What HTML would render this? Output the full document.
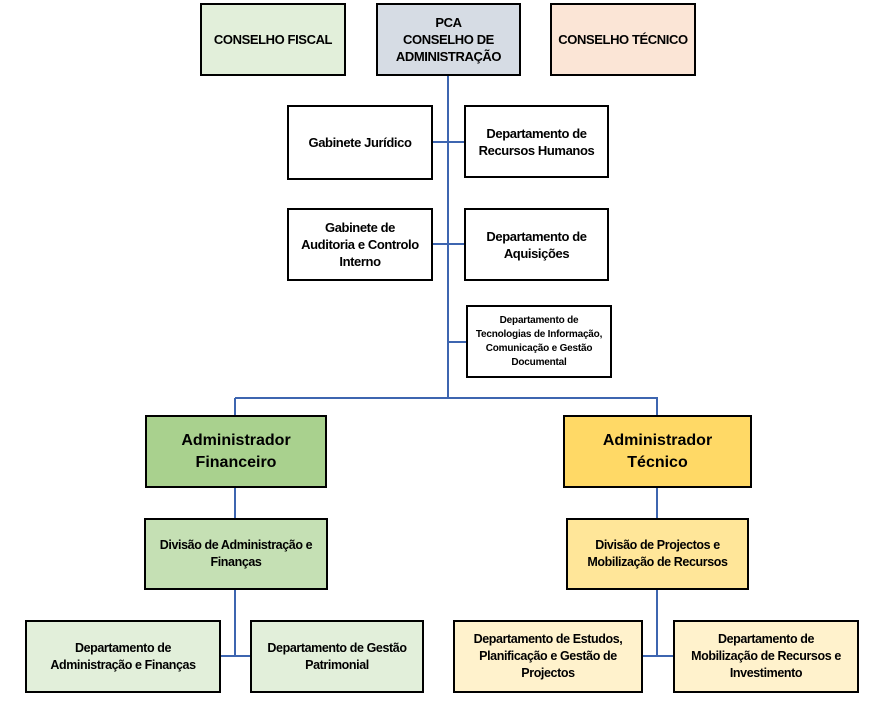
<!DOCTYPE html>
<html><head><meta charset="utf-8"><style>
body{margin:0;width:871px;height:705px;background:#fff;position:relative;overflow:hidden;font-family:"Liberation Sans",sans-serif}
.b{position:absolute;box-sizing:border-box;border:2px solid #000;display:flex;align-items:center;justify-content:center;text-align:center;font-weight:bold;font-size:13px;line-height:17px;color:#000;letter-spacing:-0.4px}
.l{position:absolute;background:#3d65b0}
</style></head><body>
<div class="l" style="left:447px;top:76px;width:2px;height:323px"></div>
<div class="l" style="left:433px;top:141px;width:31px;height:1.5px"></div>
<div class="l" style="left:432px;top:243px;width:32px;height:1.5px"></div>
<div class="l" style="left:448px;top:341px;width:18px;height:1.5px"></div>
<div class="l" style="left:235px;top:397px;width:423px;height:2px"></div>
<div class="l" style="left:234px;top:398px;width:2px;height:17px"></div>
<div class="l" style="left:656px;top:398px;width:2px;height:17px"></div>
<div class="l" style="left:234px;top:488px;width:1.5px;height:30px"></div>
<div class="l" style="left:656px;top:487px;width:1.5px;height:31px"></div>
<div class="l" style="left:234px;top:590px;width:2px;height:67px"></div>
<div class="l" style="left:220px;top:655px;width:30px;height:2px"></div>
<div class="l" style="left:656px;top:590px;width:2px;height:67px"></div>
<div class="l" style="left:643px;top:655px;width:30px;height:2px"></div>

<div class="b" style="left:200px;top:3px;width:146px;height:73px;background:#e2efda">CONSELHO FISCAL</div>
<div class="b" style="left:376px;top:3px;width:145px;height:73px;background:#d6dce4">PCA<br>CONSELHO DE<br>ADMINISTRAÇÃO</div>
<div class="b" style="left:550px;top:3px;width:146px;height:73px;background:#fbe5d6">CONSELHO TÉCNICO</div>

<div class="b" style="left:287px;top:105px;width:146px;height:75px;background:#fff">Gabinete Jurídico</div>
<div class="b" style="left:464px;top:105px;width:145px;height:73px;background:#fff">Departamento de<br>Recursos Humanos</div>
<div class="b" style="left:287px;top:208px;width:146px;height:73px;background:#fff">Gabinete de<br>Auditoria e Controlo<br>Interno</div>
<div class="b" style="left:464px;top:208px;width:145px;height:73px;background:#fff">Departamento de<br>Aquisições</div>
<div class="b" style="left:466px;top:305px;width:146px;height:73px;background:#fff;font-size:10px;line-height:14px;letter-spacing:-0.2px">Departamento de<br>Tecnologias de Informação,<br>Comunicação e Gestão<br>Documental</div>

<div class="b" style="left:145px;top:415px;width:182px;height:73px;background:#a9d18e;font-size:16px;line-height:22px;letter-spacing:0">Administrador<br>Financeiro</div>
<div class="b" style="left:563px;top:415px;width:189px;height:73px;background:#ffd966;font-size:16px;line-height:22px;letter-spacing:0">Administrador<br>Técnico</div>

<div class="b" style="left:144px;top:518px;width:184px;height:72px;background:#c5e0b4;font-size:12.5px">Divisão de Administração e<br>Finanças</div>
<div class="b" style="left:566px;top:518px;width:183px;height:72px;background:#ffe699;font-size:12.5px">Divisão de Projectos e<br>Mobilização de Recursos</div>

<div class="b" style="left:25px;top:620px;width:196px;height:73px;background:#e2efda;font-size:12.5px">Departamento de<br>Administração e Finanças</div>
<div class="b" style="left:250px;top:620px;width:174px;height:73px;background:#e2efda;font-size:12.5px">Departamento de Gestão<br>Patrimonial</div>
<div class="b" style="left:453px;top:620px;width:190px;height:73px;background:#fff2cc;font-size:12.5px">Departamento de Estudos,<br>Planificação e Gestão de<br>Projectos</div>
<div class="b" style="left:673px;top:620px;width:186px;height:73px;background:#fff2cc;font-size:12.5px">Departamento de<br>Mobilização de Recursos e<br>Investimento</div>
</body></html>
